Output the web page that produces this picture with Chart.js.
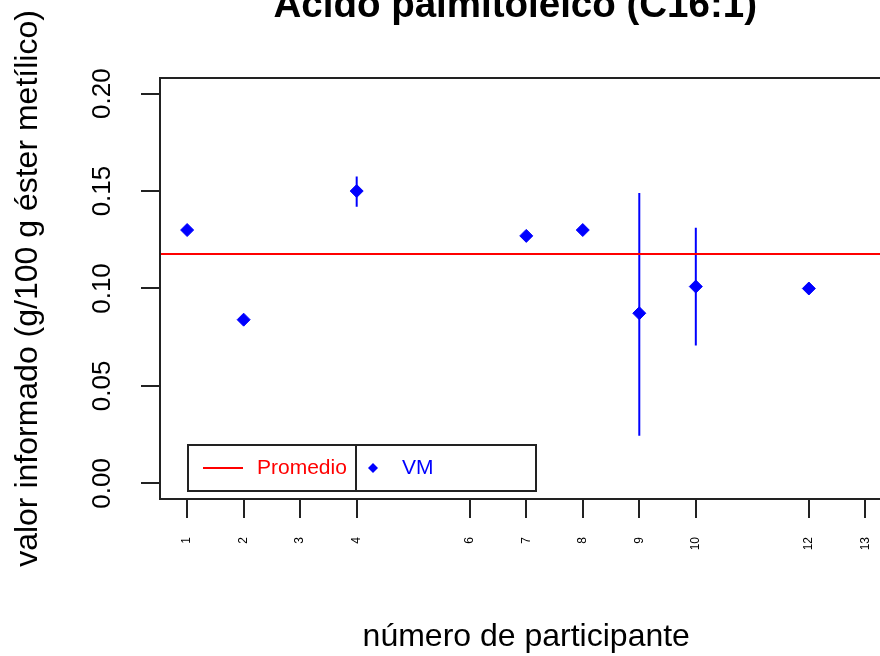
<!DOCTYPE html>
<html>
<head>
<meta charset="utf-8">
<script src="https://cdn.jsdelivr.net/npm/chart.js@4.4.1/dist/chart.umd.min.js"></script>
<style>
  html, body { margin: 0; padding: 0; background: #fff; overflow: hidden; }
  canvas { display: block; }
</style>
</head>
<body>
<canvas id="chart" width="900" height="656"></canvas>
<script>
// Data
const chartTitle = 'Ácido palmitoleico (C16:1)';
const participants = [1, 2, 4, 7, 8, 9, 10, 12];
const reported = [0.130, 0.084, 0.150, 0.127, 0.130, 0.0873, 0.101, 0.100];
const errLow = [null, null, 0.142, null, null, 0.0245, 0.0707, null];
const errHigh = [null, null, 0.1575, null, null, 0.1490, 0.1312, null];
const meanValue = 0.1177;
const xTicks = [1, 2, 3, 4, 6, 7, 8, 9, 10, 12, 13];
const yTicks = [0, 0.05, 0.10, 0.15, 0.20];
const xRange = [0.52, 13.48];
const yRange = [-0.008, 0.208];

const FONT = '"Liberation Sans", Arial, sans-serif';

// error bars as one line broken by nulls
const errPoints = [];
participants.forEach((p, i) => {
  if (errLow[i] == null) return;
  errPoints.push({ x: p, y: errLow[i] }, { x: p, y: errHigh[i] }, { x: p, y: null });
});

// title, box and legend drawn on top of the chart
const extras = {
  id: 'extras',
  afterDraw(chart) {
    const { ctx, chartArea: a } = chart;
    ctx.save();
    // main title (cropped at the top like the reference)
    ctx.fillStyle = '#000';
    ctx.font = 'bold 38.5px ' + FONT;
    ctx.textAlign = 'center';
    ctx.textBaseline = 'alphabetic';
    ctx.fillText(chartTitle, (a.left + a.right) / 2 - 11, 17);

    // plot box
    ctx.strokeStyle = '#222';
    ctx.lineWidth = 2;
    ctx.strokeRect(a.left, a.top, a.right - a.left, a.bottom - a.top);

    // legend
    const ds = chart.data.datasets;
    const x0 = a.left + 28, y0 = a.bottom - 54, w1 = 168, w2 = 180, h = 46;
    const cy = y0 + h / 2;
    ctx.strokeRect(x0, y0, w1 + w2, h);
    ctx.beginPath();
    ctx.moveTo(x0 + w1, y0);
    ctx.lineTo(x0 + w1, y0 + h);
    ctx.stroke();

    ctx.strokeStyle = ds[0].borderColor;
    ctx.beginPath();
    ctx.moveTo(x0 + 15, cy);
    ctx.lineTo(x0 + 55, cy);
    ctx.stroke();
    ctx.font = '21px ' + FONT;
    ctx.textAlign = 'left';
    ctx.textBaseline = 'middle';
    ctx.fillStyle = ds[0].borderColor;
    ctx.fillText(ds[0].label, x0 + 69, cy);

    ctx.fillStyle = ds[2].backgroundColor;
    ctx.beginPath();
    ctx.moveTo(x0 + w1 + 17, cy - 5);
    ctx.lineTo(x0 + w1 + 22, cy);
    ctx.lineTo(x0 + w1 + 17, cy + 5);
    ctx.lineTo(x0 + w1 + 12, cy);
    ctx.closePath();
    ctx.fill();
    ctx.fillText(ds[2].label, x0 + w1 + 46, cy);
    ctx.restore();
  }
};

new Chart(document.getElementById('chart'), {
  type: 'scatter',
  data: {
    datasets: [
      {
        label: 'Promedio',
        data: [{ x: xRange[0], y: meanValue }, { x: xRange[1], y: meanValue }],
        showLine: true,
        borderColor: '#ff0000',
        borderWidth: 2,
        pointRadius: 0
      },
      {
        label: 'err',
        data: errPoints,
        showLine: true,
        spanGaps: false,
        borderColor: '#0000ff',
        borderWidth: 2,
        pointRadius: 0
      },
      {
        label: 'VM',
        data: participants.map((p, i) => ({ x: p, y: reported[i] })),
        pointStyle: 'rectRot',
        pointRadius: 6.5,
        borderWidth: 1,
        backgroundColor: '#0000ff',
        borderColor: '#0000ff'
      }
    ]
  },
  options: {
    responsive: false,
    animation: false,
    layout: { padding: { top: 78, right: 7, left: 0, bottom: 0 } },
    plugins: { legend: { display: false }, tooltip: { enabled: false } },
    scales: {
      x: {
        type: 'linear',
        min: xRange[0],
        max: xRange[1],
        afterBuildTicks: s => { s.ticks = xTicks.map(v => ({ value: v })); },
        afterFit: s => { s.height = 157; },
        ticks: {
          minRotation: 90, maxRotation: 90, padding: 19,
          color: '#000', font: { family: FONT, size: 12 },
          callback: v => String(v)
        },
        grid: { drawOnChartArea: false, drawTicks: true, tickLength: 19, color: '#222', lineWidth: 2 },
        border: { display: false },
        title: {
          display: true, text: 'número de participante', color: '#000',
          font: { family: FONT, size: 32 }, padding: { top: 0, bottom: 0 }
        }
      },
      y: {
        min: yRange[0],
        max: yRange[1],
        afterBuildTicks: s => { s.ticks = yTicks.map(v => ({ value: v })); },
        afterFit: s => { s.width = 160; },
        ticks: {
          minRotation: 90, maxRotation: 90, padding: 13, crossAlign: 'center',
          color: '#000', font: { family: FONT, size: 26 },
          callback: v => v.toFixed(2)
        },
        grid: { drawOnChartArea: false, drawTicks: true, tickLength: 19, color: '#222', lineWidth: 2 },
        border: { display: false },
        title: {
          display: true, text: 'valor informado (g/100 g éster metílico)', color: '#000',
          font: { family: FONT, size: 32 }, padding: { top: 9, bottom: 0 }
        }
      }
    }
  },
  plugins: [extras]
});
</script>
</body>
</html>
